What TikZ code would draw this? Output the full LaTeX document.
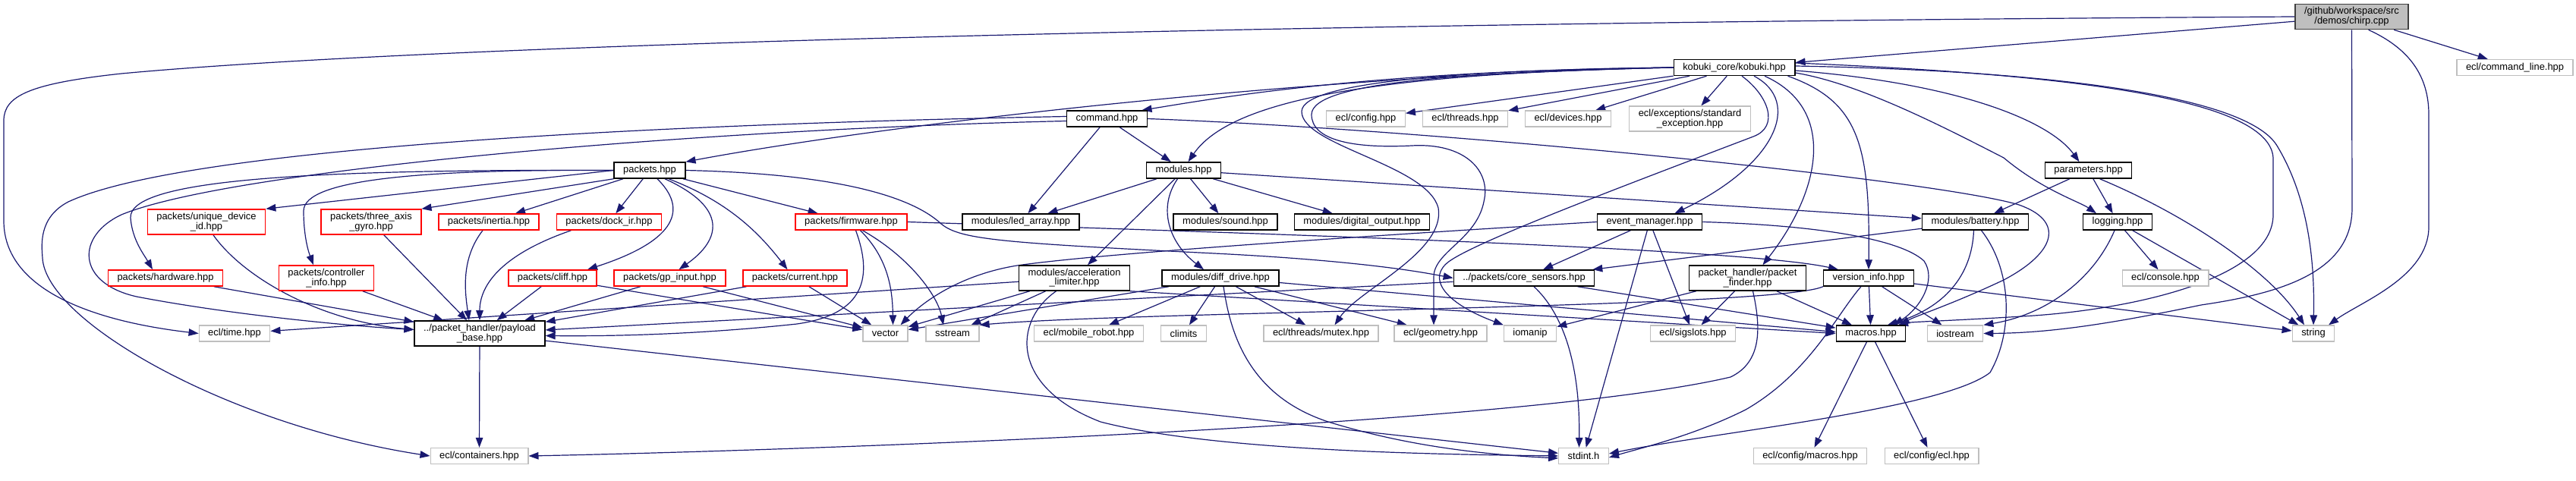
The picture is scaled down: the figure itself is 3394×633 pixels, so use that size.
\documentclass[tikz,border=0pt]{standalone}
\usepackage{fontspec}
\usepackage{tikz}
\usetikzlibrary{arrows.meta, backgrounds}
\newfontfamily\doxfamily{Liberation Sans}
\definecolor{edgeblue}{RGB}{25, 25, 112}
\definecolor{frameblack}{RGB}{0, 0, 0}
\definecolor{framered}{RGB}{255, 0, 0}
\definecolor{framegrey}{RGB}{191, 191, 191}
\definecolor{rootfill}{RGB}{191, 191, 191}
\definecolor{rootframe}{RGB}{64, 64, 64}
\tikzset{
  filebox/.style={draw, fill=white, rectangle, inner xsep=12pt, inner ysep=4pt, minimum height=21pt, font={\doxfamily\fontsize{12.9pt}{12pt}\selectfont}},
  dochdr/.style={filebox, draw=frameblack, line width=1.5pt},
  parthdr/.style={filebox, draw=framered, line width=1.5pt},
  syshdr/.style={filebox, draw=framegrey, line width=1.3pt},
  roothdr/.style={filebox, draw=rootframe, fill=rootfill, line width=1.6pt},
  twoline/.style={align=center, minimum height=33pt},
  dep/.style={-{Triangle[length=13pt, width=9.5pt]}, line width=1.2pt, edgeblue}
}

\begin{document}
\begin{tikzpicture}[x=1pt, y=1pt]
    \useasboundingbox (0,0) rectangle (3394,633);

    \node (root) [roothdr, twoline] at (3098.5, 611) {/github/workspace/src\\/demos/chirp.cpp};
    \node (kobuki) [dochdr] at (2285, 544) {kobuki\_core/kobuki.hpp};
    \node (cmdline) [syshdr] at (3313.5, 544) {ecl/command\_line.hpp};
    \node (command) [dochdr] at (1458.5, 476.5) {command.hpp};
    \node (eclconfig) [syshdr] at (1799.5, 476.5) {ecl/config.hpp};
    \node (eclthreads) [syshdr] at (1930.5, 476.5) {ecl/threads.hpp};
    \node (ecldevices) [syshdr] at (2066, 476.5) {ecl/devices.hpp};
    \node (stdexcept) [syshdr, twoline] at (2226.5, 476.5) {ecl/exceptions/standard\\\_exception.hpp};
    \node (packets) [dochdr] at (856, 408.5) {packets.hpp};
    \node (modules) [dochdr] at (1559.5, 408.5) {modules.hpp};
    \node (params) [dochdr] at (2751.5, 408.5) {parameters.hpp};
    \node (uniqueid) [parthdr, twoline] at (272, 340.5) {packets/unique\_device\\\_id.hpp};
    \node (gyro) [parthdr, twoline] at (489, 340.5) {packets/three\_axis\\\_gyro.hpp};
    \node (inertia) [parthdr] at (644, 340.5) {packets/inertia.hpp};
    \node (dockir) [parthdr] at (802.5, 340.5) {packets/dock\_ir.hpp};
    \node (firmware) [parthdr] at (1121.5, 340.5) {packets/firmware.hpp};
    \node (ledarray) [dochdr] at (1345, 340.5) {modules/led\_array.hpp};
    \node (sound) [dochdr] at (1614.5, 340.5) {modules/sound.hpp};
    \node (digout) [dochdr] at (1794.5, 340.5) {modules/digital\_output.hpp};
    \node (eventmgr) [dochdr] at (2173.5, 340.5) {event\_manager.hpp};
    \node (battery) [dochdr] at (2602.5, 340.5) {modules/battery.hpp};
    \node (logging) [dochdr] at (2790, 340.5) {logging.hpp};
    \node (hardware) [parthdr] at (218, 266.5) {packets/hardware.hpp};
    \node (ctrlinfo) [parthdr, twoline] at (430, 266.5) {packets/controller\\\_info.hpp};
    \node (cliff) [parthdr] at (728, 266.5) {packets/cliff.hpp};
    \node (gpinput) [parthdr] at (882.5, 266.5) {packets/gp\_input.hpp};
    \node (current) [parthdr] at (1047.5, 266.5) {packets/current.hpp};
    \node (accel) [dochdr, twoline] at (1415.5, 266.5) {modules/acceleration\\\_limiter.hpp};
    \node (diffdrive) [dochdr] at (1608, 266.5) {modules/diff\_drive.hpp};
    \node (coresens) [dochdr] at (2008, 266.5) {../packets/core\_sensors.hpp};
    \node (pktfinder) [dochdr, twoline] at (2302.5, 266.5) {packet\_handler/packet\\\_finder.hpp};
    \node (versioninfo) [dochdr] at (2462, 266.5) {version\_info.hpp};
    \node (console) [syshdr] at (2853, 266.5) {ecl/console.hpp};
    \node (ecltime) [syshdr] at (309, 193.5) {ecl/time.hpp};
    \node (payload) [dochdr, twoline] at (632, 193.5) {../packet\_handler/payload\\\_base.hpp};
    \node (vector) [syshdr] at (1166.5, 193.5) {vector};
    \node (sstream) [syshdr] at (1255, 193.5) {sstream};
    \node (mobilerobot) [syshdr] at (1434.5, 193.5) {ecl/mobile\_robot.hpp};
    \node (climits) [syshdr] at (1559.5, 193.5) {climits};
    \node (mutex) [syshdr] at (1740.5, 193.5) {ecl/threads/mutex.hpp};
    \node (geometry) [syshdr] at (1898, 193.5) {ecl/geometry.hpp};
    \node (iomanip) [syshdr] at (2016, 193.5) {iomanip};
    \node (sigslots) [syshdr] at (2230.5, 193.5) {ecl/sigslots.hpp};
    \node (macros) [dochdr] at (2465, 193.5) {macros.hpp};
    \node (iostream) [syshdr] at (2576, 193.5) {iostream};
    \node (string) [syshdr] at (3048, 193.5) {string};
    \node (containers) [syshdr] at (631.5, 32) {ecl/containers.hpp};
    \node (stdint) [syshdr] at (2086.5, 32) {stdint.h};
    \node (cfgmacros) [syshdr] at (2385, 32) {ecl/config/macros.hpp};
    \node (cfgecl) [syshdr] at (2545, 32) {ecl/config/ecl.hpp};

    \begin{scope}[on background layer]
    \draw[dep] (root) -- (kobuki);
    \draw[dep] (root.west) .. controls (1800,604) and (600,577) .. (160,536) .. controls (40,523) and (5,507) .. (5,474) -- (5,342) .. controls (5,252) and (120,210) .. (ecltime.west);
    \draw[dep] (root) -- (cmdline);
    \draw[dep] ([xshift=22pt]root.south) .. controls (3175,569) and (3200,532) .. (3200,482) -- (3200,334) .. controls (3200,268) and (3110,235) .. ([xshift=20pt]string.north);
    \draw[dep] (root.south) -- (3099,359) .. controls (3099,276) and (3010,247) .. (2900,231) .. controls (2780,206) and (2700,194) .. (iostream.east);

    \draw[dep] (kobuki.west) .. controls (1800,540) and (1600,503) .. ([xshift=46pt]command.north);
    \draw[dep] (kobuki.west) .. controls (1700,533) and (1150,466) .. (packets.north east);
    \draw[dep] (kobuki.west) .. controls (1800,536) and (1620,499) .. ([xshift=6pt]modules.north);
    \draw[dep] (kobuki) -- (eclconfig);
    \draw[dep] (kobuki) -- (eclthreads);
    \draw[dep] (kobuki) -- (ecldevices);
    \draw[dep] (kobuki) -- (stdexcept);
    \draw[dep] (kobuki.west) .. controls (1950,541) and (1715,527) .. (1715,486) .. controls (1715,441) and (1880,416) .. (1895,359) .. controls (1905,301) and (1790,251) .. ([xshift=18pt]mutex.north);
    \draw[dep] (kobuki.west) .. controls (1950,538) and (1728,527) .. (1728,482) .. controls (1728,449) and (1780,437) .. (1860,441) .. controls (1930,445) and (1965,408) .. (1955,367) .. controls (1945,317) and (1889,301) .. (1889,268) -- ([xshift=-9pt]geometry.north);
    \draw[dep] ([xshift=10pt]kobuki.south) .. controls (2330,507) and (2345,466) .. (2310,453) .. controls (2150,392) and (1950,317) .. (1910,289) .. controls (1880,268) and (1900,235) .. (iomanip.north west);
    \draw[dep] ([xshift=26pt]kobuki.south) .. controls (2375,499) and (2340,416) .. ([xshift=33pt]eventmgr.north);
    \draw[dep] ([xshift=40pt]kobuki.south) .. controls (2420,490) and (2400,383) .. ([xshift=20pt]pktfinder.north);
    \draw[dep] ([xshift=-10pt]kobuki.south east) .. controls (2450,499) and (2464,441) .. (versioninfo.north);
    \draw[dep] ([yshift=-4pt]kobuki.east) .. controls (2580,523) and (2700,474) .. ([xshift=-12pt]params.north);
    \draw[dep] ([yshift=-7pt]kobuki.east) .. controls (2450,523) and (2560,466) .. (2640,425) .. controls (2690,383) and (2740,367) .. ([xshift=-28pt]logging.north);
    \draw[dep] ([yshift=2pt]kobuki.east) .. controls (2700,540) and (2960,507) .. (3000,441) .. controls (3040,375) and (3050,293) .. (string.north);
    \draw[dep] ([yshift=6pt]kobuki.east) .. controls (2700,536) and (2990,507) .. (2995,425) -- (2995,350) .. controls (2995,268) and (2820,227) .. (2680,217) .. controls (2570,210) and (2520,209) .. ([xshift=36pt]macros.north);

    \draw[dep] ([yshift=3pt]command.west) .. controls (900,470) and (250,441) .. (90,367) .. controls (50,346) and (55,309) .. (56,293) .. controls (60,210) and (300,73) .. (containers.west);
    \draw[dep] ([yshift=-3pt]command.west) .. controls (900,462) and (300,408) .. (160,350) .. controls (100,322) and (100,260) .. (180,242) .. controls (300,219) and (450,204) .. ([yshift=5pt]payload.west);
    \draw[dep] (command) -- (ledarray);
    \draw[dep] (command) -- (modules);
    \draw[dep] (command.east) .. controls (1900,462) and (2550,396) .. (2660,363) .. controls (2720,342) and (2710,301) .. (2640,264) .. controls (2570,231) and (2525,217) .. ([xshift=38pt]macros.north);

    \draw[dep] (packets.west) -- (uniqueid.north east);
    \draw[dep] (packets.south west) -- (gyro.north east);
    \draw[dep] (packets) -- (inertia);
    \draw[dep] (packets) -- (dockir);
    \draw[dep] (packets) -- (firmware);
    \draw[dep] ([xshift=10pt]packets.south) .. controls (905,359) and (895,317) .. ([xshift=46pt]cliff.north);
    \draw[dep] ([xshift=20pt]packets.south) .. controls (960,359) and (950,317) .. ([xshift=12pt]gpinput.north);
    \draw[dep] ([xshift=25pt]packets.south) .. controls (960,367) and (1000,326) .. ([xshift=-10pt]current.north);
    \draw[dep] (packets.west) .. controls (400,410) and (170,396) .. (172,346) .. controls (174,317) and (190,297) .. ([xshift=-17pt]hardware.north);
    \draw[dep] (packets.west) .. controls (550,410) and (400,396) .. (400,355) .. controls (400,326) and (405,305) .. ([xshift=-17pt]ctrlinfo.north);
    \draw[dep] (packets.east) .. controls (1100,404) and (1200,375) .. (1240,338) .. controls (1265,317) and (1320,313) .. (1600,299) .. controls (1800,289) and (1880,273) .. (coresens.west);

    \draw[dep] (modules) -- (ledarray);
    \draw[dep] (modules) -- (sound);
    \draw[dep] (modules) -- (digout);
    \draw[dep] (modules) -- (accel);
    \draw[dep] ([xshift=-8pt]modules.south) .. controls (1525,359) and (1540,313) .. ([xshift=-22pt]diffdrive.north);
    \draw[dep] (modules) -- (battery);

    \draw[dep] (params) -- (battery);
    \draw[dep] (params) -- (logging);
    \draw[dep] ([xshift=15pt]params.south) .. controls (2880,350) and (2990,276) .. ([xshift=-12pt]string.north);

    \draw[dep] ([xshift=9pt]uniqueid.south) .. controls (320,268) and (420,210) .. ([yshift=5pt]payload.west);
    \draw[dep] (gyro) -- (payload);
    \draw[dep] ([xshift=-8pt]inertia.south) .. controls (608,293) and (612,252) .. ([xshift=-14pt]payload.north);
    \draw[dep] ([xshift=-50pt]dockir.south) .. controls (665,299) and (632,260) .. (payload.north);
    \draw[dep] (hardware) -- (payload);
    \draw[dep] (ctrlinfo) -- (payload);
    \draw[dep] (cliff) -- (payload);
    \draw[dep] (cliff) -- (vector);
    \draw[dep] (gpinput) -- (payload);
    \draw[dep] (gpinput) -- (vector);
    \draw[dep] (current) -- (payload);
    \draw[dep] (current) -- (vector);
    \draw[dep] ([xshift=6pt]firmware.south) .. controls (1150,268) and (1140,219) .. (1050,206) .. controls (900,190) and (780,190) .. ([yshift=-3pt]payload.east);
    \draw[dep] ([xshift=12pt]firmware.south) .. controls (1170,293) and (1176,252) .. ([xshift=10pt]vector.north);
    \draw[dep] ([xshift=15pt]firmware.south) .. controls (1200,293) and (1235,243) .. ([xshift=-12pt]sstream.north);
    \draw[dep] (firmware.east) .. controls (1700,324) and (2300,305) .. ([xshift=-40pt]versioninfo.north);

    \draw[dep] (eventmgr) -- (coresens);
    \draw[dep] (eventmgr) -- (stdint);
    \draw[dep] (eventmgr) -- (sigslots);
    \draw[dep] (eventmgr.west) .. controls (1800,322) and (1450,299) .. (1340,283) .. controls (1260,270) and (1212,231) .. ([xshift=20pt]vector.north);
    \draw[dep] (eventmgr.east) .. controls (2400,336) and (2505,317) .. (2535,289) .. controls (2552,264) and (2530,227) .. ([xshift=30pt]macros.north);

    \draw[dep] (battery) -- (coresens);
    \draw[dep] ([xshift=-2pt]battery.south) .. controls (2598,268) and (2560,227) .. ([xshift=22pt]macros.north);
    \draw[dep] ([xshift=8pt]battery.south) .. controls (2652,276) and (2652,194) .. (2622,142) .. controls (2560,93) and (2250,62) .. ([yshift=3pt]stdint.east);

    \draw[dep] ([xshift=-4pt]logging.south) .. controls (2760,268) and (2700,219) .. (iostream.north east);
    \draw[dep] (logging) -- (console);
    \draw[dep] (logging) -- (string);

    \draw[dep] (accel) -- (ecltime);
    \draw[dep] (accel) -- (vector);
    \draw[dep] (accel) -- (sstream);
    \draw[dep] ([xshift=-24pt]accel.south) .. controls (1335,210) and (1330,123) .. (1450,77) .. controls (1600,38) and (1900,34) .. (stdint.west);
    \draw[dep] (accel.south east) -- (macros.west);

    \draw[dep] (diffdrive) -- (vector);
    \draw[dep] (diffdrive) -- (mobilerobot);
    \draw[dep] (diffdrive) -- (climits);
    \draw[dep] (diffdrive) -- (mutex);
    \draw[dep] (diffdrive) -- (geometry);
    \draw[dep] ([xshift=4pt]diffdrive.south) .. controls (1620,202) and (1640,113) .. (1750,77) .. controls (1850,46) and (1950,34) .. ([yshift=-3pt]stdint.west);
    \draw[dep] ([yshift=-6pt]diffdrive.east) -- ([yshift=2pt]macros.west);

    \draw[dep] (coresens) -- (payload);
    \draw[dep] ([xshift=13pt]coresens.south) .. controls (2060,219) and (2082,152) .. ([xshift=-6pt]stdint.north);
    \draw[dep] (coresens) -- (macros);

    \draw[dep] ([xshift=7pt]pktfinder.south) .. controls (2320,202) and (2322,156) .. (2280,136) .. controls (2000,70) and (1000,38) .. (containers.east);
    \draw[dep] (pktfinder) -- (iomanip);
    \draw[dep] (pktfinder) -- (sigslots);
    \draw[dep] (pktfinder) -- (macros);

    \draw[dep] (versioninfo.south west) .. controls (2340,227) and (1500,223) .. (sstream.north east);
    \draw[dep] ([xshift=-10pt]versioninfo.south) .. controls (2420,219) and (2385,142) .. (2300,93) .. controls (2230,58) and (2160,42) .. ([yshift=-2pt]stdint.east);
    \draw[dep] (versioninfo) -- (macros);
    \draw[dep] (versioninfo) -- (iostream);
    \draw[dep] (versioninfo) -- (string);

    \draw[dep] (payload) -- (containers);
    \draw[dep] (payload) -- (stdint);
    \draw[dep] (macros) -- (cfgmacros);
    \draw[dep] (macros) -- (cfgecl);
    \end{scope}
\end{tikzpicture}
\end{document}
